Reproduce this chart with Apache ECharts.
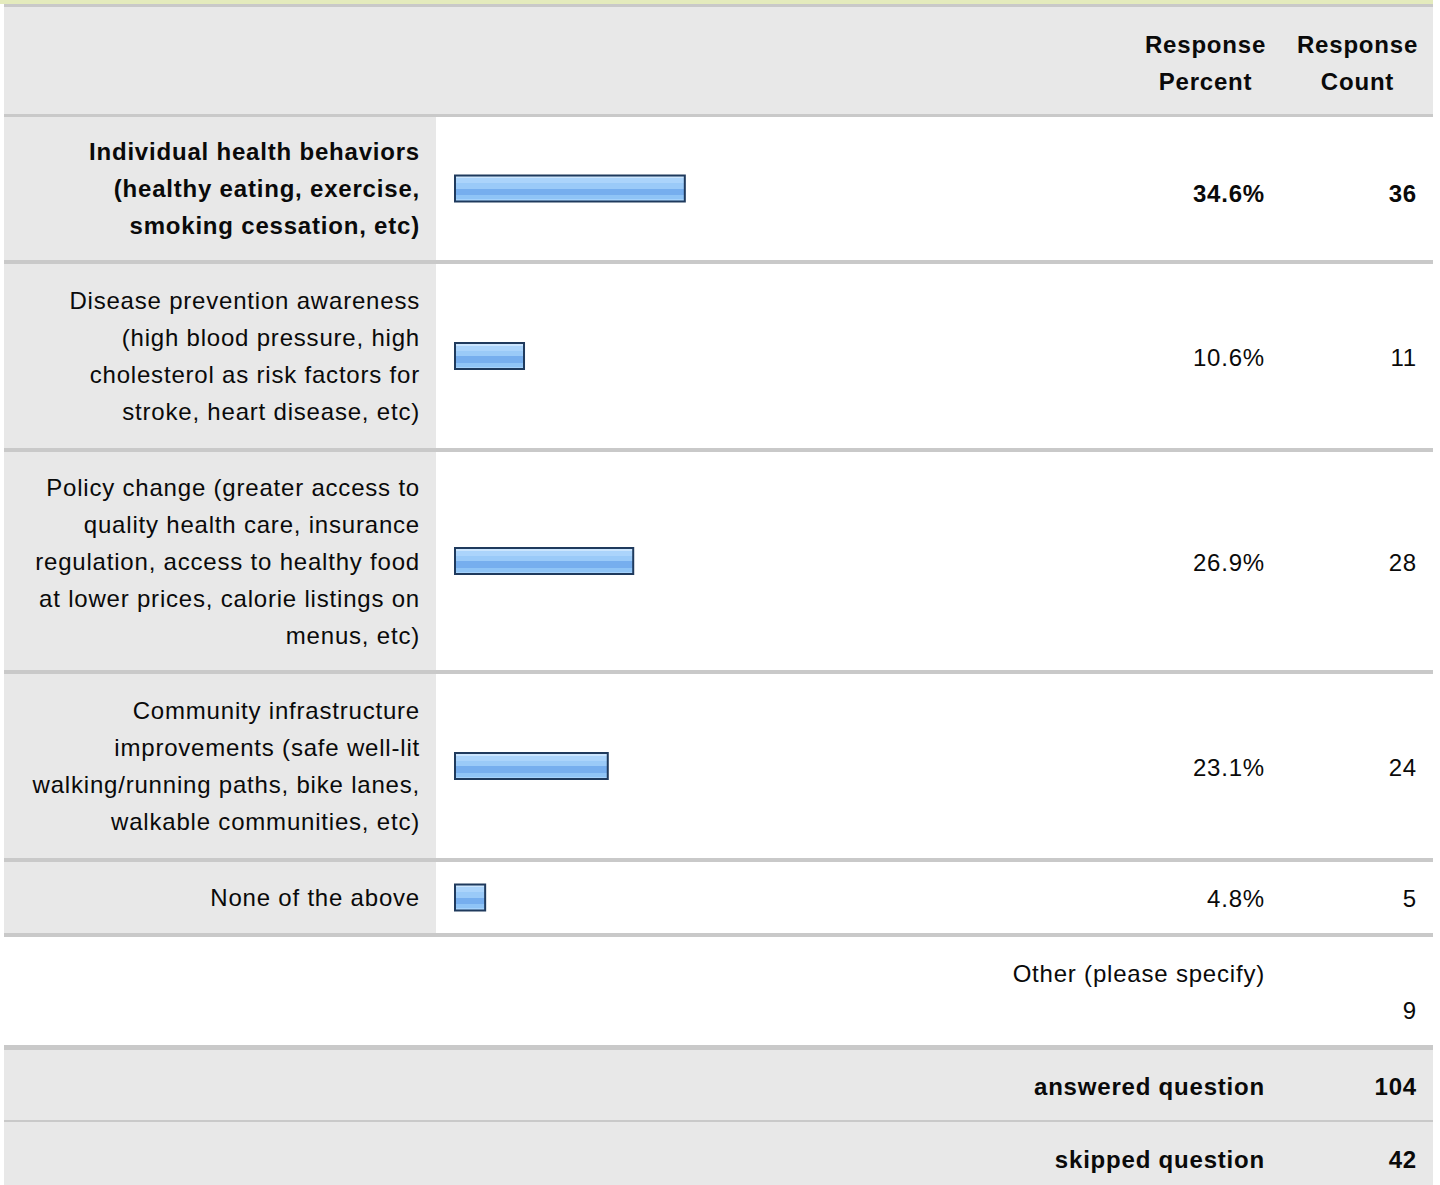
<!DOCTYPE html>
<html>
<head>
<meta charset="utf-8">
<title>Survey responses</title>
<script src="https://cdn.jsdelivr.net/npm/echarts@6/dist/echarts.min.js"></script>
<style>
  html, body { margin: 0; padding: 0; background: #ffffff; }
  #chart { width: 1440px; height: 1185px; }
  /* the table type is set slightly tracked */
  #chart text { letter-spacing: 0.8px; }
</style>
</head>
<body>
<div id="chart"></div>
<script>
// ---- data ----
const categories = [
  'Individual health behaviors\n(healthy eating, exercise,\nsmoking cessation, etc)',
  'Disease prevention awareness\n(high blood pressure, high\ncholesterol as risk factors for\nstroke, heart disease, etc)',
  'Policy change (greater access to\nquality health care, insurance\nregulation, access to healthy food\nat lower prices, calorie listings on\nmenus, etc)',
  'Community infrastructure\nimprovements (safe well-lit\nwalking/running paths, bike lanes,\nwalkable communities, etc)',
  'None of the above'
];
const responsePercent = [34.6, 10.6, 26.9, 23.1, 4.8];
const responseCount = [36, 11, 28, 24, 5];
const headerPercent = 'Response\nPercent';
const headerCount = 'Response\nCount';
const otherLabel = 'Other (please specify)';
const otherCount = 9;
const answeredLabel = 'answered question';
const answeredCount = 104;
const skippedLabel = 'skipped question';
const skippedCount = 42;

// ---- layout ----
const TABLE_L = 4, TABLE_R = 1433;
const LABEL_COL_R = 436;
const BAR_L = 454, BAR_W = 670;
const PCT_R = 1265, CNT_R = 1417;
const PCT_C = 1205.5, CNT_C = 1357.5;
const rowTop = [117, 264, 452, 674, 862];
const rowBottom = [260, 448, 670, 858, 933];
const textShift = [4, 0, 0, 0, 0];   // first row text sits a little lower than its bar
const separators = [[4, 3], [114, 3], [260, 4], [448, 4], [670, 4], [858, 4], [933, 4], [1045, 5], [1120, 2]];
const GRAY = '#e8e8e8', LINE = '#c9c9c9', INK = '#0a0a0a';
const FONT = '"Liberation Sans", Arial, Helvetica, sans-serif';
const FS = 24, LH = 37;

// highlighted (largest) answer is set in bold
const maxIdx = responsePercent.indexOf(Math.max(...responsePercent));

const barFill = new echarts.graphic.LinearGradient(0, 0, 0, 1, [
  { offset: 0.00, color: '#cbe5fd' },
  { offset: 0.11, color: '#cbe5fd' },
  { offset: 0.11, color: '#abd4fb' },
  { offset: 0.30, color: '#abd4fb' },
  { offset: 0.30, color: '#9acaf8' },
  { offset: 0.50, color: '#9acaf8' },
  { offset: 0.50, color: '#76aeee' },
  { offset: 0.76, color: '#76aeee' },
  { offset: 0.76, color: '#8fc4f6' },
  { offset: 0.91, color: '#8fc4f6' },
  { offset: 0.91, color: '#a6d3fc' },
  { offset: 1.00, color: '#a6d3fc' }
]);

const graphics = [];
function rect(x, y, w, h, fill) {
  graphics.push({ type: 'rect', z: 0, silent: true, shape: { x, y, width: w, height: h }, style: { fill } });
}
function text(str, x, y, align, bold, lineHeight) {
  graphics.push({
    type: 'text', z: 10, silent: true, x, y,
    style: {
      text: str, fill: INK, fontFamily: FONT, fontSize: FS,
      fontWeight: bold ? 'bold' : 'normal', lineHeight: lineHeight || LH,
      textAlign: align, textVerticalAlign: 'middle'
    }
  });
}

// table backgrounds
rect(0, 0, TABLE_R, 4, '#e4ebbd');
rect(TABLE_L, 7, TABLE_R - TABLE_L, 107, GRAY);
rowTop.forEach((t, i) => rect(TABLE_L, t, LABEL_COL_R - TABLE_L, rowBottom[i] - t, GRAY));
rect(TABLE_L, 1050, TABLE_R - TABLE_L, 1185 - 1050, GRAY);
separators.forEach(([y, h]) => rect(TABLE_L, y, TABLE_R - TABLE_L, h, LINE));

// header
text(headerPercent, PCT_C, 63, 'center', true);
text(headerCount, CNT_C, 63, 'center', true);

// per-answer percent and count columns
rowTop.forEach((t, i) => {
  const cy = (t + rowBottom[i]) / 2 + textShift[i] + 1;
  text(responsePercent[i].toFixed(1) + '%', PCT_R, cy, 'right', i === maxIdx);
  text(String(responseCount[i]), CNT_R, cy, 'right', i === maxIdx);
});

// other / summary rows
text(otherLabel, PCT_R, 973, 'right', false);
text(String(otherCount), CNT_R, 1010, 'right', false);
text(answeredLabel, PCT_R, 1086, 'right', true);
text(String(answeredCount), CNT_R, 1086, 'right', true);
text(skippedLabel, PCT_R, 1159, 'right', true);
text(String(skippedCount), CNT_R, 1159, 'right', true);

// one grid per answer row (rows have different heights)
const grids = [], xAxes = [], yAxes = [], series = [];
categories.forEach((cat, i) => {
  grids.push({
    left: BAR_L, width: BAR_W,
    top: rowTop[i], height: rowBottom[i] - rowTop[i],
    outerBoundsMode: 'none', containLabel: false
  });
  xAxes.push({
    gridIndex: i, type: 'value', min: 0, max: 100, show: false
  });
  yAxes.push({
    gridIndex: i, type: 'category', data: [cat],
    axisLine: { show: false }, axisTick: { show: false }, splitLine: { show: false },
    axisLabel: {
      margin: 34, color: INK, fontFamily: FONT, fontSize: FS, lineHeight: LH,
      fontWeight: i === maxIdx ? 'bold' : 'normal', align: 'right', verticalAlign: 'middle',
      padding: [textShift[i] * 2, 0, 0, 0]
    }
  });
  series.push({
    type: 'bar', xAxisIndex: i, yAxisIndex: i, z: 5,
    data: [responsePercent[i]], barWidth: 28, silent: true,
    itemStyle: { color: barFill, borderColor: '#1f3a5d', borderWidth: 2, borderRadius: 0 },
    animation: false
  });
});

const chart = echarts.init(document.getElementById('chart'), null, { renderer: 'svg', width: 1440, height: 1185 });
chart.setOption({
  animation: false,
  backgroundColor: '#ffffff',
  tooltip: { show: false },
  grid: grids,
  xAxis: xAxes,
  yAxis: yAxes,
  series: series,
  graphic: { elements: graphics }
});
</script>
</body>
</html>
